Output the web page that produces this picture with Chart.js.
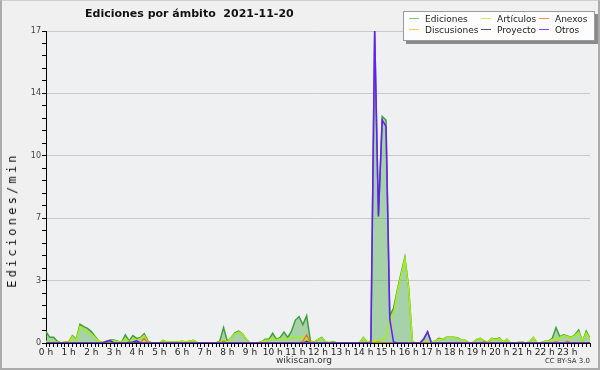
<!DOCTYPE html>
<html lang="es">
<head>
<meta charset="UTF-8">
<title>Ediciones por ámbito 2021-11-20</title>
<script src="https://cdn.jsdelivr.net/npm/chart.js@4.4.0/dist/chart.umd.min.js"></script>
<style>
  html, body { margin: 0; padding: 0; background: #f0f0f0; }
  #page { position: relative; width: 600px; height: 370px; overflow: hidden; }
  #frame { position: absolute; left: 0; top: 0; width: 600px; height: 370px; box-sizing: border-box;
           border: 2px solid #ababab; border-top: 1px solid #d0d0d0; background: #f0f0f0; }
  canvas { position: absolute; left: 0; top: 0; }
  .txt { position: absolute; font-family: "DejaVu Sans", sans-serif; color: #222; white-space: pre; }
  #title { left: 85px; top: 7px; font-size: 11px; font-weight: bold; color: #111; }
  #ylabel { left: 12px; top: 220px; font-family: "DejaVu Sans Mono", monospace; font-size: 12px;
            letter-spacing: 3.2px; color: #111; transform: translate(-50%, -50%) rotate(-90deg); }
  #site { left: 276px; top: 355px; font-size: 9px; color: #333; }
  #cc { right: 10px; top: 357px; font-size: 7px; color: #333; }
  #legend { position: absolute; left: 403px; top: 11px; width: 190px; height: 28px; background: #fdfdfd;
            border: 1px solid #9a9a9a; box-shadow: 3px 3px 0 #8a8a8a; }
  .item { position: absolute; font-family: "DejaVu Sans", sans-serif; font-size: 9px; color: #222; white-space: nowrap; }
  .item i { display: inline-block; width: 10px; height: 0; border-top: 1px solid; vertical-align: middle; margin-right: 6px; position: relative; top: -1px; }
</style>
</head>
<body>
<div id="page">
  <div id="frame"></div>
  <canvas id="chart" width="600" height="370"></canvas>
  <div class="txt" id="title">Ediciones por ámbito  2021-11-20</div>
  <div class="txt" id="ylabel">Ediciones/min</div>
  <div class="txt" id="site">wikiscan.org</div>
  <div class="txt" id="cc">CC BY-SA 3.0</div>
  <div id="legend"></div>
</div>
<script>
// one value every 10 minutes, 00:00 .. 24:00
const hourLabels = ['0 h','1 h','2 h','3 h','4 h','5 h','6 h','7 h','8 h','9 h','10 h','11 h',
                    '12 h','13 h','14 h','15 h','16 h','17 h','18 h','19 h','20 h','21 h','22 h','23 h'];
const yTickValues = [0, 3.4, 6.8, 10.2, 13.6, 17];
const yTickLabels = ['0', '3', '7', '10', '14', '17'];

const ediciones = [
  0.62,0.31,0.31,0.1,0,0.05,0.05,0.4,0.2,1.02,0.89,0.8,
  0.62,0.35,0.1,0.03,0.1,0.16,0.16,0.1,0.02,0.44,0.1,0.4,
  0.25,0.3,0.5,0.1,0,0,0,0.15,0.05,0.05,0.05,0.05,
  0.1,0.05,0.1,0.15,0.02,0,0,0,0,0,0.1,0.84,
  0.1,0.3,0.55,0.65,0.5,0.2,0,0,0,0.05,0.2,0.2,
  0.53,0.2,0.3,0.6,0.3,0.65,1.25,1.43,1.0,1.49,0.1,0.05,
  0.2,0.3,0.05,0.02,0.08,0,0,0,0,0,0,0,
  0.3,0.05,0.1,17,7.0,12.35,12.15,1.5,1.9,2.9,3.8,4.67,
  3.0,0.05,0,0,0.25,0.6,0.05,0.1,0.25,0.2,0.31,0.31,
  0.31,0.28,0.15,0.15,0,0.02,0.2,0.25,0.1,0.05,0.25,0.2,
  0.28,0.05,0.2,0,0,0.03,0.05,0,0.05,0.3,0,0,
  0.1,0.1,0.25,0.84,0.35,0.45,0.38,0.3,0.45,0.7,0.05,0.65,
  0.25
];
const articulos = [
  0.1,0.05,0.05,0.05,0,0,0,0.35,0.15,0.9,0.75,0.55,
  0.5,0.3,0.08,0.02,0.05,0.1,0.12,0.08,0.02,0.25,0.05,0.25,
  0.15,0.25,0.4,0.05,0,0,0,0.15,0.05,0.05,0.05,0.05,
  0.1,0.05,0.1,0.15,0.02,0,0,0,0,0,0.05,0.15,
  0.05,0.3,0.5,0.6,0.5,0.2,0,0,0,0.05,0.15,0.15,
  0.3,0.15,0.25,0.25,0.25,0.3,0.3,0.3,0.3,0.25,0.05,0.05,
  0.2,0.28,0.05,0.02,0.05,0,0,0,0,0,0,0,
  0.28,0.05,0.1,0.1,0.15,0.2,0.3,1.2,1.6,2.8,3.7,4.6,
  2.9,0.05,0,0,0.05,0.05,0.05,0.1,0.2,0.2,0.3,0.3,
  0.3,0.25,0.15,0.15,0,0.02,0.2,0.25,0.08,0.05,0.25,0.15,
  0.25,0.05,0.2,0,0,0.03,0.05,0,0.05,0.3,0,0,
  0.08,0.08,0.2,0.2,0.3,0.4,0.35,0.28,0.4,0.6,0.05,0.55,
  0.2
];
const anexos = [
  0,0,0,0,0,0.03,0.03,0,0,0,0,0,
  0,0,0,0,0,0,0,0,0,0,0,0,
  0,0.05,0.25,0,0,0,0,0,0,0,0,0,
  0,0,0,0,0,0,0,0,0,0,0,0.1,
  0,0,0,0,0,0,0,0,0,0,0,0,
  0,0,0,0,0,0,0,0,0.1,0.45,0.02,0,
  0,0,0,0,0,0,0,0,0,0,0,0,
  0,0,0,0,0.08,0,0,0,0,0,0,0,
  0,0,0,0,0,0,0,0,0,0,0,0,
  0,0,0,0,0,0,0,0,0.08,0,0,0,
  0,0,0,0,0,0,0,0,0,0,0,0,
  0,0,0,0.08,0,0,0.1,0,0,0,0,0,
  0
];
const discusiones = [
  0,0,0,0,0,0.05,0.05,0,0,0,0,0,
  0,0,0,0,0,0,0,0,0,0,0,0,
  0,0,0,0,0,0,0,0,0,0,0,0,
  0,0,0,0,0,0,0,0,0,0,0,0,
  0,0,0,0,0,0,0,0,0,0,0,0,
  0,0,0,0,0,0,0,0,0,0,0,0,
  0,0,0,0,0,0,0,0,0,0,0,0,
  0,0,0,0,0.05,0,0,0,0,0,0,0,
  0.05,0,0,0,0,0,0,0.05,0,0,0,0,
  0,0,0,0,0,0,0,0,0,0.03,0,0,
  0,0,0,0,0,0,0,0,0,0,0,0,
  0,0,0,0,0,0,0,0,0,0,0,0,
  0
];
const proyecto = [
  0,0,0,0,0,0,0,0,0,0,0,0,
  0,0,0,0,0,0,0,0,0,0,0.05,0,
  0.05,0,0,0,0,0,0,0,0,0,0,0,
  0,0,0,0,0,0,0,0,0,0,0,0,
  0,0,0,0,0,0,0,0,0,0,0,0,
  0,0,0,0,0,0,0,0,0,0.1,0,0,
  0,0,0,0,0,0,0,0,0,0,0,0,
  0,0,0,0,0,0,0,0,0,0,0,0,
  0,0,0,0,0,0,0,0,0,0,0,0,
  0,0,0,0,0,0,0,0,0,0,0,0,
  0,0,0,0,0,0,0,0,0,0,0,0,
  0,0,0,0,0,0,0,0,0,0,0,0,
  0
];
const otros = [
  0,0,0,0,0,0,0,0,0,0,0,0,
  0,0,0,0,0.08,0.12,0,0,0,0,0,0.05,
  0.12,0,0,0,0,0,0,0,0,0,0,0,
  0,0,0,0,0,0,0,0,0,0,0,0,
  0,0,0,0,0,0,0,0,0,0,0,0,
  0,0,0,0,0,0,0,0,0,0,0,0,
  0,0,0,0,0,0,0,0,0,0,0,0,
  0,0,0,17,6.9,12.15,11.8,1.3,0.05,0,0,0,
  0,0,0,0,0.2,0.62,0,0,0,0,0,0,
  0,0,0,0,0,0,0,0,0,0,0,0,
  0,0,0,0,0,0,0,0,0,0,0,0,
  0,0,0,0,0,0,0,0,0,0,0,0,
  0
];

const series = [
  { label: 'Ediciones',   data: ediciones,   color: '#3f9e3f', legend: '#7fcc7f', width: 1.5, order: 6, fill: true },
  { label: 'Artículos',   data: articulos,   color: '#a8ee10', legend: '#c8f060', width: 1.5, order: 5 },
  { label: 'Anexos',      data: anexos,      color: '#ff6a1a', legend: '#ff8a50', width: 1.2, order: 4 },
  { label: 'Discusiones', data: discusiones, color: '#ffcc22', legend: '#ffcc44', width: 1.2, order: 3 },
  { label: 'Proyecto',    data: proyecto,    color: '#444444', legend: '#555555', width: 1.2, order: 2 },
  { label: 'Otros',       data: otros,       color: '#6a1aff', legend: '#8a44ff', width: 1.5, order: 1 }
];

// legend box, three columns
const legendPos = [[5, 2], [77, 2], [135, 2], [5, 13], [77, 13], [135, 13]];
const legendOrder = ['Ediciones', 'Artículos', 'Anexos', 'Discusiones', 'Proyecto', 'Otros'];
const legendEl = document.getElementById('legend');
legendOrder.forEach((name, k) => {
  const s = series.find(d => d.label === name);
  const el = document.createElement('div');
  el.className = 'item';
  el.style.left = legendPos[k][0] + 'px';
  el.style.top = legendPos[k][1] + 'px';
  el.innerHTML = '<i style="border-color:' + s.legend + '"></i>' + name;
  legendEl.appendChild(el);
});

const plotBg = {
  id: 'plotBg',
  beforeDraw(chart) {
    const a = chart.chartArea, c = chart.ctx;
    c.save();
    c.fillStyle = '#eef0f2';
    c.fillRect(a.left, a.top, a.right - a.left, a.bottom - a.top);
    c.restore();
  }
};

const ctx = document.getElementById('chart').getContext('2d');
new Chart(ctx, {
  type: 'line',
  data: {
    datasets: series.map(s => ({
      label: s.label,
      data: s.data.map((v, i) => ({ x: i, y: v })),
      borderColor: s.color,
      backgroundColor: s.fill ? 'rgba(80,170,80,0.45)' : s.color,
      borderWidth: s.width,
      fill: s.fill ? 'origin' : false,
      pointRadius: 0,
      tension: 0,
      order: s.order
    }))
  },
  options: {
    responsive: false,
    animation: false,
    layout: { padding: { top: 31, right: 10, left: 0, bottom: 0 } },
    plugins: { legend: { display: false }, tooltip: { enabled: false } },
    scales: {
      x: {
        type: 'linear',
        min: 0,
        max: 144,
        afterFit(scale) { scale.height = 27; },
        afterBuildTicks(scale) {
          const t = [];
          for (let i = 0; i <= 144; i++) t.push({ value: i });
          scale.ticks = t;
        },
        border: { color: '#000', width: 1 },
        grid: { drawOnChartArea: false, tickLength: 4, tickColor: '#000', tickWidth: 1 },
        ticks: {
          autoSkip: false,
          maxRotation: 0,
          padding: 0,
          color: '#222',
          font: { family: 'DejaVu Sans', size: 9 },
          callback: v => (v % 6 === 0 && v < 144) ? hourLabels[v / 6] : ''
        }
      },
      y: {
        min: 0,
        max: 17,
        afterFit(scale) { scale.width = 46; },
        afterBuildTicks(scale) {
          const t = [];
          for (let k = 0; k < yTickValues.length; k++) {
            t.push({ value: yTickValues[k], major: true });
            if (k < yTickValues.length - 1) {
              const step = (yTickValues[k + 1] - yTickValues[k]) / 5;
              for (let m = 1; m < 5; m++) t.push({ value: yTickValues[k] + step * m });
            }
          }
          scale.ticks = t;
        },
        border: { color: '#000', width: 1 },
        grid: {
          color: c => (c.tick && c.tick.major && c.tick.value > 0) ? '#c9c9c9' : 'rgba(0,0,0,0)',
          tickColor: '#000',
          tickLength: 4,
          lineWidth: 1
        },
        ticks: {
          autoSkip: false,
          padding: 1,
          color: '#444',
          font: { family: 'DejaVu Sans', size: 8 },
          callback: v => {
            const k = yTickValues.findIndex(t => Math.abs(t - v) < 1e-6);
            return k >= 0 ? yTickLabels[k] : '';
          }
        }
      }
    }
  },
  plugins: [plotBg]
});
</script>
</body>
</html>
